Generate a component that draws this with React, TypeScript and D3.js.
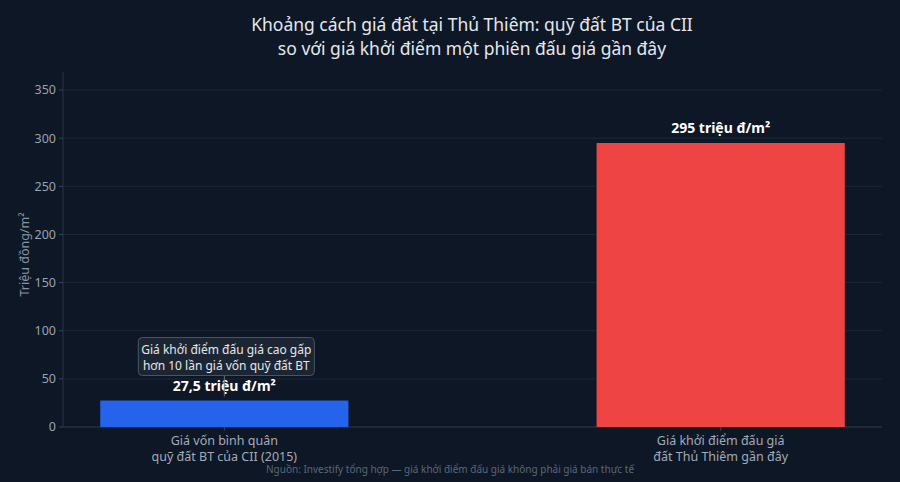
import * as d3 from "d3";

const categories = [
  "Giá vốn bình quân\nquỹ đất BT của CII (2015)",
  "Giá khởi điểm đấu giá\nđất Thủ Thiêm gần đây",
];
const values = [27.5, 295];
const valueLabels = ["27,5 triệu đ/m²", "295 triệu đ/m²"];
const barColors = ["#2563eb", "#ef4444"];
const yTicks = [0, 50, 100, 150, 200, 250, 300, 350];
const titleLines = [
  "Khoảng cách giá đất tại Thủ Thiêm: quỹ đất BT của CII",
  "so với giá khởi điểm một phiên đấu giá gần đây",
];
const noteLines = ["Giá khởi điểm đấu giá cao gấp", "hơn 10 lần giá vốn quỹ đất BT"];
const footer = "Nguồn: Investify tổng hợp — giá khởi điểm đấu giá không phải giá bán thực tế";

export default function App() {
  const width = 900;
  const height = 482;
  const marginTop = 72;
  const marginRight = 18;
  const marginBottom = 55;
  const marginLeft = 63;
  const font = "'Noto Sans', 'DejaVu Sans', sans-serif";

  const x = d3.scaleBand()
    .domain(categories)
    .range([marginLeft, width - marginRight])
    .paddingInner(0.5)
    .paddingOuter(0.075);

  const y = d3.scaleLinear()
    .domain([0, d3.max(values) * 1.25])
    .range([height - marginBottom, marginTop]);

  const cx0 = x(categories[0]) + x.bandwidth() / 2;
  const boxW = 176;
  const boxH = 38;
  const boxBottom = y(values[0]) - 25;

  return (
    <svg width={width} height={height} style={{ position: "absolute", left: 0, top: 0, background: "#0d1726", fontFamily: font }}>
      <rect width={width} height={height} fill="#0d1726" />
      {titleLines.map((t, i) => (
        <text key={i} x={width / 2 + 22} y={31 + i * 24} textAnchor="middle" fill="#e5e7eb" fontSize={17.5}>{t}</text>
      ))}
      {yTicks.map(t => (
        <g key={t} transform={`translate(0,${y(t)})`}>
          <line x1={marginLeft} x2={width - marginRight} stroke="#1c2838" strokeWidth={1} />
          <line x1={marginLeft - 4} x2={marginLeft} stroke="#3a4556" />
          <text x={marginLeft - 7} dy="0.35em" textAnchor="end" fill="#9aa3b0" fontSize={12.5}>{t}</text>
        </g>
      ))}
      <line x1={marginLeft} x2={marginLeft} y1={marginTop} y2={y(0)} stroke="#2a3546" />
      <line x1={marginLeft} x2={width - marginRight} y1={y(0)} y2={y(0)} stroke="#2a3546" />
      <text transform={`translate(29,${(marginTop + y(0)) / 2 + 5}) rotate(-90)`} textAnchor="middle" fill="#8b94a3" fontSize={12.5}>Triệu đồng/m²</text>
      {categories.map((c, i) => (
        <g key={c}>
          <rect x={x(c)} y={y(values[i])} width={x.bandwidth()} height={y(0) - y(values[i])} fill={barColors[i]} />
          <line x1={x(c) + x.bandwidth() / 2} x2={x(c) + x.bandwidth() / 2} y1={y(0)} y2={y(0) + 4} stroke="#3a4556" />
          <text x={x(c) + x.bandwidth() / 2} y={y(values[i]) - 10} textAnchor="middle" fill="#ffffff" fontWeight="bold" fontSize={14}>{valueLabels[i]}</text>
          {c.split("\n").map((line, j) => (
            <text key={j} x={x(c) + x.bandwidth() / 2} y={y(0) + 18 + j * 16} textAnchor="middle" fill="#a3abb8" fontSize={12.5}>{line}</text>
          ))}
        </g>
      ))}
      <line x1={cx0} x2={cx0} y1={boxBottom} y2={y(values[0]) - 4} stroke="#6b7585" strokeWidth={1} />
      <rect x={cx0 - boxW / 2 + 2} y={boxBottom - boxH} width={boxW} height={boxH} rx={4} fill="#1c2633" stroke="#4a5566" />
      {noteLines.map((t, i) => (
        <text key={i} x={cx0 + 2} y={boxBottom - boxH + 16 + i * 16} textAnchor="middle" fill="#e5e7eb" fontSize={12}>{t}</text>
      ))}
      <text x={width / 2} y={473} textAnchor="middle" fill="#5d6777" fontSize={10}>{footer}</text>
    </svg>
  );
}
